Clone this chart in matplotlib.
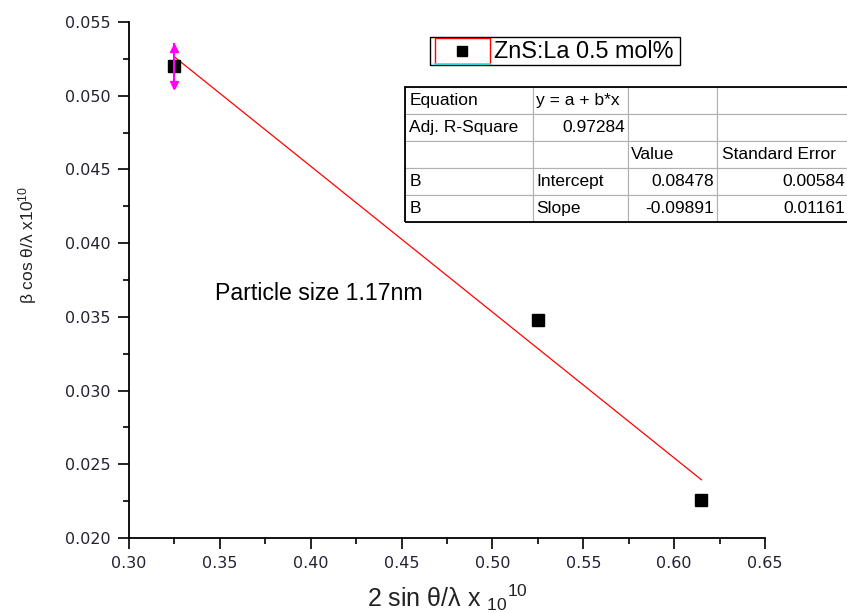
import numpy as np
import matplotlib.pyplot as plt
from matplotlib.patches import Rectangle
from matplotlib.lines import Line2D
from matplotlib import font_manager

plt.rcParams['font.family'] = ['Liberation Sans', 'DejaVu Sans']
plt.rcParams['mathtext.fontset'] = 'custom'
plt.rcParams['mathtext.rm'] = 'Liberation Sans'
plt.rcParams['mathtext.it'] = 'Liberation Sans'

# data
x = [0.325, 0.525, 0.615]
y = [0.0520, 0.0348, 0.0226]
yerr = [0.00155, 0.0, 0.0]

# linear fit shown in the table
intercept = 0.08478
slope = -0.09891
fit_x = [0.325, 0.615]

x_ticks = [0.30, 0.35, 0.40, 0.45, 0.50, 0.55, 0.60, 0.65]
y_ticks = [0.020, 0.025, 0.030, 0.035, 0.040, 0.045, 0.050, 0.055]

table_rows = [
    ["Equation", "y = a + b*x", "", ""],
    ["Adj. R-Square", "0.97284", "", ""],
    ["", "", "Value", "Standard Error"],
    ["B", "Intercept", "0.08478", "0.00584"],
    ["B", "Slope", "-0.09891", "0.01161"],
]

names = {f.name for f in font_manager.fontManager.ttflist}
narrow = 'Liberation Sans Narrow' if 'Liberation Sans Narrow' in names else 'Liberation Sans'

W, H = 847, 613
fig = plt.figure(figsize=(W / 100, H / 100), dpi=100)
ax = fig.add_axes([129 / W, 1 - 538 / H, 636 / W, 516 / H])

fy = [intercept + slope * v for v in fit_x]
ax.plot(fit_x, fy, color='red', lw=0.9)
ax.plot(x, y, 's', color='black', ms=8.5, zorder=3)
ax.errorbar(x[:1], y[:1], yerr=yerr[:1], fmt='none', ecolor='magenta', lw=1.5, zorder=4)
ax.plot([x[0]], [y[0] + yerr[0] * 0.8], '^', color='magenta', ms=6, zorder=4)
ax.plot([x[0]], [y[0] - yerr[0] * 0.8], 'v', color='magenta', ms=6, zorder=4)

ax.set_xlim(0.30, 0.65)
ax.set_ylim(0.020, 0.055)
ax.set_xticks(x_ticks)
ax.set_xticks(np.arange(0.325, 0.65, 0.05), minor=True)
ax.set_yticks(y_ticks)
ax.set_yticks(np.arange(0.0225, 0.055, 0.005), minor=True)
ax.set_xticklabels(['%.2f' % v for v in x_ticks], family='DejaVu Sans')
ax.set_yticklabels(['%.3f' % v for v in y_ticks], family='DejaVu Sans')
ax.tick_params(which='major', length=8, width=1.2, labelsize=11.5, colors='black',
               labelcolor='#222233', pad=5)
ax.tick_params(which='minor', length=4, width=1.2)
for s in ['top', 'right']:
    ax.spines[s].set_visible(False)
for s in ['left', 'bottom']:
    ax.spines[s].set_linewidth(1.3)

fig.text(215 / W, 1 - 293 / H, "Particle size 1.17nm", fontsize=16.7, va='center')

fig.text(28 / W, 1 - 245 / H, 'β cos θ/λ x10$^{10}$', rotation=90, fontsize=12.5,
         ha='center', va='center', color='#222222')
fig.text(447 / W, 1 - 598 / H, '2 sin θ/λ x $_{10}{}^{10}$', fontsize=18, family=narrow,
         ha='center', va='center', color='#222222')

# legend box
fig.patches.append(Rectangle((430 / W, 1 - 65 / H), 250 / W, 28 / H, transform=fig.transFigure,
                             fill=False, ec='black', lw=1))
fig.patches.append(Rectangle((435 / W, 1 - 64 / H), 55 / W, 26 / H, transform=fig.transFigure,
                             fill=False, ec='red', lw=1))
fig.lines.append(Line2D([435 / W, 490 / W], [1 - 64 / H, 1 - 64 / H], transform=fig.transFigure,
                        color='cyan', lw=1.2))
fig.lines.append(Line2D([462 / W], [1 - 51 / H], marker='s', color='black', ms=7,
                        transform=fig.transFigure))
fig.text(494 / W, 1 - 51 / H, 'ZnS:La 0.5 mol%', fontsize=16.8, va='center')

# fit table
tax = fig.add_axes([405 / W, 1 - 222 / H, 445 / W, 135 / H])
tax.axis('off')
tab = tax.table(cellText=table_rows, bbox=[0, 0, 1, 1], cellLoc='left',
                colWidths=[128, 95, 89, 133])
tab.auto_set_font_size(False)
for (r, c), cell in tab.get_celld().items():
    cell.set_fontsize(12.5)
    cell.set_linewidth(0.8)
    cell.set_edgecolor('#b0b0b0')
    cell.PAD = 0.035
    txt = cell.get_text().get_text()
    if txt and txt[0] in '-0':
        cell.get_text().set_ha('right')
        cell._loc = 'right'
fig.patches.append(Rectangle((405 / W, 1 - 222 / H), 445 / W, 135 / H, transform=fig.transFigure,
                             fill=False, ec='black', lw=1.3, zorder=5))

fig.savefig('out.png', dpi=100)
